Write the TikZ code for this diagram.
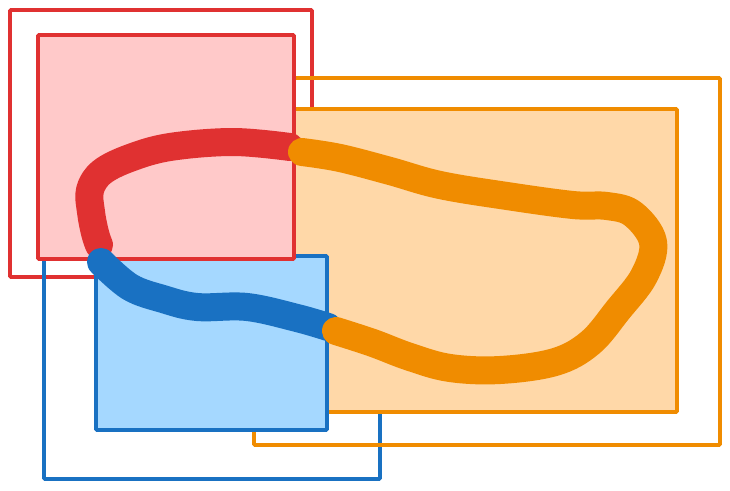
\documentclass[tikz,border=0pt]{standalone}
\usepackage{tikz}
\definecolor{xred}{HTML}{E03131}
\definecolor{xredfill}{HTML}{FFC9C9}
\definecolor{xblue}{HTML}{1971C2}
\definecolor{xbluefill}{HTML}{A5D8FF}
\definecolor{xorange}{HTML}{F08C00}
\definecolor{xorangefill}{HTML}{FFD8A8}
\tikzset{
  frame/.style={line width=3.6pt, rounded corners=1pt},
  stroke/.style={line width=28pt, line cap=round, line join=round},
}
\begin{document}
\begin{tikzpicture}[x=1pt,y=-1pt]
\useasboundingbox (0,0) rectangle (730,490);
% outer frames
\draw[frame, xred] (10,10) rectangle (312,277);
\draw[frame, xblue] (44,200) rectangle (380,479);
\draw[frame, xorange] (254,78) rectangle (720,445);
% filled boxes
\draw[frame, xorange, fill=xorangefill] (260,109) rectangle (677,412);
\draw[frame, xblue, fill=xbluefill] (96,256) rectangle (327,430);
\draw[frame, xred, fill=xredfill] (38,35) rectangle (294,259);
% strokes
\draw[stroke, xred] plot[smooth, tension=0.6] coordinates {(290,147) (233,142) (170,147) (130,158) (102,172) (90,190) (91,212) (95,233) (99,245)};
\draw[stroke, xblue] plot[smooth, tension=0.6] coordinates {(101,262) (130,287) (163,299) (197,307) (247,307) (297,318) (328,327)};
\draw[stroke, xorange] plot[smooth, tension=0.6] coordinates {(302,152) (340,158) (390,171) (440,185) (507,196) (573,205) (607,206) (633,214) (653,242) (644,276) (618,310) (590,343) (555,362) (500,370) (450,368) (410,357) (373,343) (336,331)};
\end{tikzpicture}
\end{document}
